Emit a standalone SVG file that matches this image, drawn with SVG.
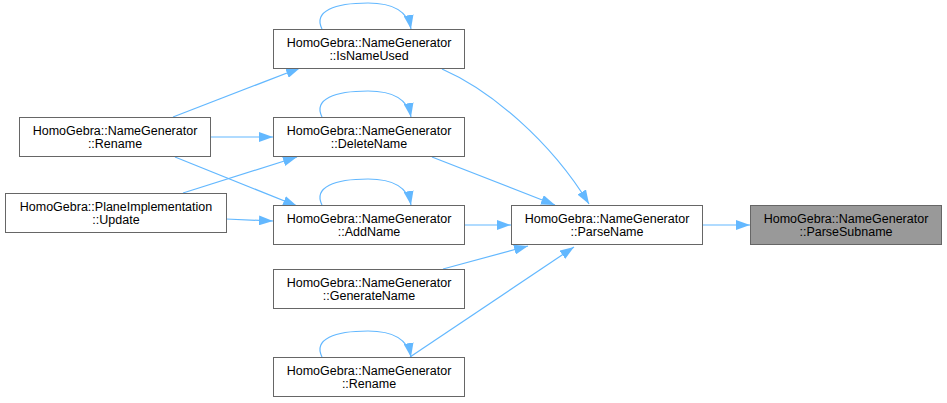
<svg xmlns="http://www.w3.org/2000/svg" width="947" height="403" viewBox="0 0 947 403">
<style>
.n rect{fill:#fff;stroke:#666;stroke-width:1}
.n.hl rect{fill:#999}
.n text{font-family:"Liberation Sans",Arial,sans-serif;font-size:12.5px;fill:#000;text-anchor:middle}
.e path{fill:none;stroke:#63b8ff;stroke-width:1.2;marker-end:url(#ah)}
</style>
<defs>
<marker id="ah" markerUnits="userSpaceOnUse" viewBox="0 0 14 10" refX="14" refY="5" markerWidth="14" markerHeight="10" orient="auto">
<polygon points="0,0 14,5 0,10" fill="#63b8ff"/>
</marker>
</defs>
<rect width="947" height="403" fill="#fff"/>
<g class="e">
<path d="M322,29 C313,11 335,3 368,3 C395,3 408,12 411,29"/>
<path d="M322,117 C313,99 335,91 368,91 C395,91 408,100 411,117"/>
<path d="M322,205 C313,187 335,179 368,179 C395,179 408,188 411,205"/>
<path d="M322,357 C313,339 335,331 368,331 C395,331 408,340 411,357"/>
<path d="M173,117 L300,68"/>
<path d="M211,137 L273,137"/>
<path d="M175,157 L297,206"/>
<path d="M183,193 L297,157"/>
<path d="M226,219 L273,221"/>
<path d="M464,225 L511,225"/>
<path d="M443,269 L528,246"/>
<path d="M410,357 L574,247"/>
<path d="M442,69 C490,90 550,140 589,204"/>
<path d="M432,157 L555,205"/>
<path d="M703,225 L750,225"/>
</g>
<g id="isNameUsed" class="n"><rect x="273.5" y="29.5" width="191" height="39"/><text x="369" y="47">HomoGebra::NameGenerator</text><text x="369" y="60">::IsNameUsed</text></g>
<g id="deleteName" class="n"><rect x="273.5" y="117.5" width="191" height="39"/><text x="369" y="135">HomoGebra::NameGenerator</text><text x="369" y="148">::DeleteName</text></g>
<g id="addName" class="n"><rect x="273.5" y="205.5" width="191" height="39"/><text x="369" y="223">HomoGebra::NameGenerator</text><text x="369" y="236">::AddName</text></g>
<g id="generateName" class="n"><rect x="273.5" y="269.5" width="191" height="39"/><text x="369" y="287">HomoGebra::NameGenerator</text><text x="369" y="300">::GenerateName</text></g>
<g id="renameBottom" class="n"><rect x="273.5" y="357.5" width="191" height="39"/><text x="369" y="375">HomoGebra::NameGenerator</text><text x="369" y="388">::Rename</text></g>
<g id="parseName" class="n"><rect x="511.5" y="205.5" width="191" height="39"/><text x="607" y="223">HomoGebra::NameGenerator</text><text x="607" y="236">::ParseName</text></g>
<g id="parseSubname" class="n hl"><rect x="750.5" y="205.5" width="191" height="39"/><text x="846" y="223">HomoGebra::NameGenerator</text><text x="846" y="236">::ParseSubname</text></g>
<g id="renameLeft" class="n"><rect x="19.5" y="117.5" width="191" height="39"/><text x="115" y="135">HomoGebra::NameGenerator</text><text x="115" y="148">::Rename</text></g>
<g id="update" class="n"><rect x="5.5" y="193.5" width="221" height="39"/><text x="116" y="211">HomoGebra::PlaneImplementation</text><text x="116" y="224">::Update</text></g>
</svg>
